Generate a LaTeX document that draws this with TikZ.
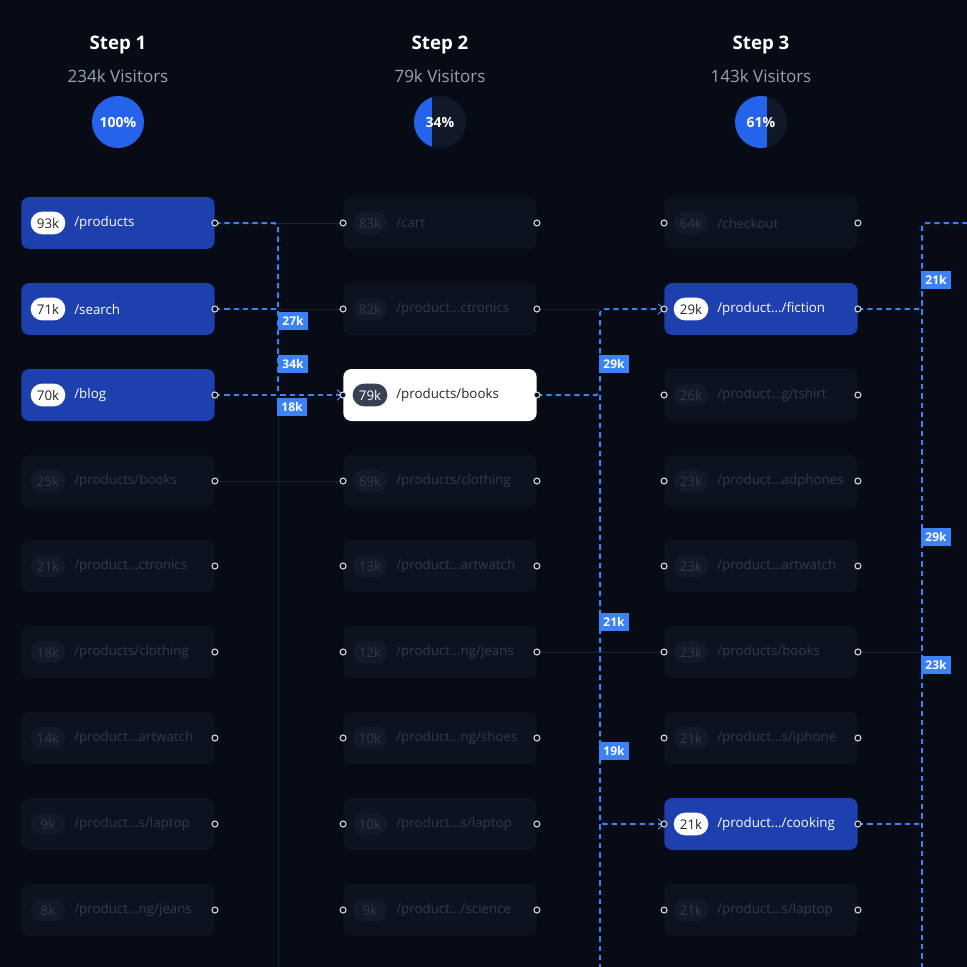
\documentclass[tikz,border=0pt]{standalone}
\usepackage{fontspec}
\setmainfont{Open Sans}
\usetikzlibrary{arrows.meta,positioning}

\definecolor{bgdark}{HTML}{060B16}
\definecolor{actblue}{HTML}{1E40AF}
\definecolor{lineblue}{HTML}{3B82F6}
\definecolor{pieblue}{HTML}{2563EB}
\definecolor{faintbox}{HTML}{0C121E}
\definecolor{faintpill}{HTML}{121927}
\definecolor{fainttext}{HTML}{343B48}
\definecolor{faintline}{HTML}{1A2130}
\definecolor{greytext}{HTML}{9CA3AF}
\definecolor{piedark}{HTML}{111827}
\definecolor{chosenpill}{HTML}{374151}

% #1 column, #2 row, #3 box style, #4 pill style, #5 text colour, #6 count, #7 path
\newcommand{\pagebox}[7]{%
  \node[#3](b#1-#2) at (c#1r#2){};
  \node[pill,#4,right=7pt of b#1-#2.west](k#1-#2){#6};
  \node[text=#5,right=3pt of k#1-#2](t#1-#2){#7};
}

\begin{document}
\begin{tikzpicture}[x=0.75pt,y=-0.75pt,font=\fontsize{10}{12}\selectfont]
      \tikzstyle{page}=[rounded corners=6pt,minimum width=145pt,minimum height=39pt,inner sep=0pt]
      \tikzstyle{faint}=[page,fill=faintbox]
      \tikzstyle{active}=[page,fill=actblue]
      \tikzstyle{chosen}=[page,fill=white]
      \tikzstyle{pill}=[rounded corners=8.5pt,minimum height=17pt,minimum width=26pt,inner xsep=4pt,inner ysep=0pt]
      \tikzstyle{wpill}=[fill=white,text=black!85]
      \tikzstyle{dpill}=[fill=faintpill,text=fainttext]
      \tikzstyle{cpill}=[fill=chosenpill,text=white]
      \tikzstyle{port}=[circle,draw=white!85!black,fill=bgdark,line width=0.8pt,inner sep=0pt,minimum size=4.5pt]
      \tikzstyle{flow}=[draw=lineblue,line width=1.5pt,dash pattern=on 4pt off 3pt,rounded corners=3pt]
      \tikzstyle{ghost}=[draw=faintline,line width=0.6pt]
      \tikzstyle{count}=[fill=lineblue,text=white,font=\fontsize{9}{10}\selectfont\bfseries,inner xsep=3pt,inner ysep=3pt]
      \tikzstyle{tip}=[-{Straight Barb[length=4pt,width=8pt,line width=0.8pt]}]

      \fill[bgdark] (0,0) rectangle (967,967);
      \useasboundingbox (0,0) rectangle (967,967);

      % headers
      \foreach \i/\x/\v/\p in {1/118/234k/100,2/440/79k/34,3/761/143k/61}{
        \node[text=white,font=\fontsize{14}{16}\selectfont\bfseries](step\i) at (\x,45){Step \i};
        \node[text=greytext,font=\fontsize{12.75}{14}\selectfont](vis\i) at (\x,76){\v\ Visitors};
        \fill[piedark] (\x,122) circle (19.5pt);
        \begin{scope}
          \clip (\x,122) circle (19.5pt);
          \fill[pieblue] (\x-30,90) rectangle ({\x+26*(\p/50-1)},150);
        \end{scope}
        \node[text=white,font=\fontsize{10.5}{12}\selectfont\bfseries](pie\i) at (\x,122){\p\%};
      }

      % grid of slots
      \foreach \c/\x in {1/118,2/440,3/761}{
        \foreach \r/\y in {1/223,2/309,3/395,4/481,5/566,6/652,7/738,8/824,9/910}{
          \coordinate (c\c r\r) at (\x,\y);
        }
      }

      % faint links
      \draw[ghost] (c1r1) -- (c2r1);
      \draw[ghost] (c1r2) -- (600,309);
      \draw[ghost] (c1r4) -- (c2r4);
      \draw[ghost] (278,395) -- (278,967);
      \draw[ghost] (c2r6) -- (922,652);

      % pages
      \pagebox{1}{1}{active}{wpill}{white}{93k}{/products}
      \pagebox{1}{2}{active}{wpill}{white}{71k}{/search}
      \pagebox{1}{3}{active}{wpill}{white}{70k}{/blog}
      \pagebox{1}{4}{faint}{dpill}{fainttext}{25k}{/products/books}
      \pagebox{1}{5}{faint}{dpill}{fainttext}{21k}{/product...ctronics}
      \pagebox{1}{6}{faint}{dpill}{fainttext}{18k}{/products/clothing}
      \pagebox{1}{7}{faint}{dpill}{fainttext}{14k}{/product...artwatch}
      \pagebox{1}{8}{faint}{dpill}{fainttext}{9k}{/product...s/laptop}
      \pagebox{1}{9}{faint}{dpill}{fainttext}{8k}{/product...ng/jeans}

      \pagebox{2}{1}{faint}{dpill}{fainttext}{83k}{/cart}
      \pagebox{2}{2}{faint}{dpill}{fainttext}{82k}{/product...ctronics}
      \pagebox{2}{3}{chosen}{cpill}{black!85}{79k}{/products/books}
      \pagebox{2}{4}{faint}{dpill}{fainttext}{69k}{/products/clothing}
      \pagebox{2}{5}{faint}{dpill}{fainttext}{13k}{/product...artwatch}
      \pagebox{2}{6}{faint}{dpill}{fainttext}{12k}{/product...ng/jeans}
      \pagebox{2}{7}{faint}{dpill}{fainttext}{10k}{/product...ng/shoes}
      \pagebox{2}{8}{faint}{dpill}{fainttext}{10k}{/product...s/laptop}
      \pagebox{2}{9}{faint}{dpill}{fainttext}{9k}{/product.../science}

      \pagebox{3}{1}{faint}{dpill}{fainttext}{64k}{/checkout}
      \pagebox{3}{2}{active}{wpill}{white}{29k}{/product.../fiction}
      \pagebox{3}{3}{faint}{dpill}{fainttext}{26k}{/product...g/tshirt}
      \pagebox{3}{4}{faint}{dpill}{fainttext}{23k}{/product...adphones}
      \pagebox{3}{5}{faint}{dpill}{fainttext}{23k}{/product...artwatch}
      \pagebox{3}{6}{faint}{dpill}{fainttext}{23k}{/products/books}
      \pagebox{3}{7}{faint}{dpill}{fainttext}{21k}{/product...s/iphone}
      \pagebox{3}{8}{active}{wpill}{white}{21k}{/product.../cooking}
      \pagebox{3}{9}{faint}{dpill}{fainttext}{21k}{/product...s/laptop}

      % highlighted flows
      \draw[flow] (b1-1.east) -| (278,395);
      \draw[flow] (b1-2.east) -- (278,309);
      \draw[flow,tip] (b1-3.east) -- (b2-3.west);
      \draw[flow,tip] (b2-3.east) -| (600,340) |- (b3-2.west);
      \draw[flow,tip] (600,395) |- (b3-8.west);
      \draw[flow] (600,395) -- (600,967);
      \draw[flow] (b3-2.east) -| (922,260) |- (967,223);
      \draw[flow] (b3-8.east) -- (922,824);
      \draw[flow] (922,300) -- (922,967);

      % ports
      \foreach \c in {1,2,3}{
        \foreach \r in {1,...,9}{
          \node[port](po\c-\r) at (b\c-\r.east){};
        }
      }
      \foreach \c in {2,3}{
        \foreach \r in {1,...,9}{
          \node[port](pi\c-\r) at (b\c-\r.west){};
        }
      }

      % counts
      \node[count](n1) at (293,321){27k};
      \node[count](n2) at (293,364){34k};
      \node[count](n3) at (292,407){18k};
      \node[count](n4) at (614,364){29k};
      \node[count](n5) at (614,622){21k};
      \node[count](n6) at (614,751){19k};
      \node[count](n7) at (936,280){21k};
      \node[count](n8) at (936,537){29k};
      \node[count](n9) at (936,665){23k};
    \end{tikzpicture}
\end{document}
